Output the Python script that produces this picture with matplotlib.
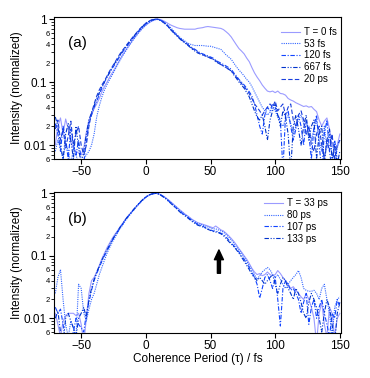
import numpy as np
import matplotlib
matplotlib.use('Agg')
import matplotlib.pyplot as plt
from matplotlib.ticker import LogLocator, FixedLocator, FuncFormatter, NullFormatter

plt.rcParams['font.family'] = ['Liberation Sans', 'DejaVu Sans']

# coherence period grid (fs)
tau = np.arange(-70, 151, 2)

# panel (a): population times T = 0 fs, 53 fs, 120 fs, 667 fs, 20 ps
a_0fs = [0.010, 0.020, 0.027, 0.015, 0.026, 0.018, 0.011, 0.009, 0.008, 0.0075,
         0.007, 0.009, 0.016, 0.025, 0.030, 0.038, 0.045, 0.055, 0.070, 0.085,
         0.100, 0.120, 0.140, 0.165, 0.195, 0.230, 0.270, 0.310, 0.360, 0.410,
         0.470, 0.530, 0.600, 0.670, 0.740, 0.800, 0.860, 0.910, 0.950, 0.980,
         0.990, 0.970, 0.930, 0.880, 0.830, 0.790, 0.760, 0.730, 0.710, 0.700,
         0.690, 0.690, 0.690, 0.690, 0.690, 0.710, 0.720, 0.730, 0.750, 0.760,
         0.750, 0.740, 0.730, 0.720, 0.710, 0.680, 0.630, 0.580, 0.520, 0.450,
         0.390, 0.340, 0.310, 0.280, 0.240, 0.210, 0.170, 0.140, 0.120, 0.105,
         0.090, 0.080, 0.072, 0.070, 0.072, 0.068, 0.072, 0.066, 0.065, 0.062,
         0.055, 0.052, 0.050, 0.047, 0.045, 0.043, 0.041, 0.042, 0.040, 0.041,
         0.037, 0.034, 0.025, 0.020, 0.024, 0.027, 0.018, 0.0095, 0.009, 0.010,
         0.015]
a_53fs = [0.008, 0.012, 0.009, 0.006, 0.011, 0.008, 0.005, 0.009, 0.007, 0.005,
          0.004, 0.006, 0.007, 0.008, 0.010, 0.015, 0.028, 0.042, 0.058, 0.075,
          0.092, 0.110, 0.130, 0.155, 0.185, 0.220, 0.260, 0.300, 0.350, 0.400,
          0.460, 0.520, 0.590, 0.660, 0.730, 0.800, 0.860, 0.920, 0.960, 0.990,
          0.990, 0.960, 0.900, 0.840, 0.770, 0.700, 0.630, 0.570, 0.520, 0.480,
          0.450, 0.420, 0.400, 0.390, 0.380, 0.380, 0.380, 0.380, 0.375, 0.370,
          0.370, 0.360, 0.350, 0.340, 0.330, 0.300, 0.270, 0.250, 0.230, 0.200,
          0.175, 0.155, 0.140, 0.125, 0.110, 0.100, 0.085, 0.070, 0.058, 0.048,
          0.040, 0.035, 0.030, 0.033, 0.040, 0.035, 0.028, 0.022, 0.020, 0.025,
          0.030, 0.022, 0.015, 0.020, 0.025, 0.030, 0.022, 0.015, 0.020, 0.012,
          0.018, 0.025, 0.012, 0.008, 0.020, 0.009, 0.015, 0.007, 0.005, 0.009,
          0.012]
a_120fs = [0.022, 0.015, 0.008, 0.020, 0.012, 0.006, 0.018, 0.010, 0.007, 0.012,
           0.006, 0.005, 0.012, 0.022, 0.030, 0.040, 0.050, 0.063, 0.080, 0.100,
           0.120, 0.140, 0.165, 0.190, 0.220, 0.260, 0.300, 0.340, 0.390, 0.440,
           0.500, 0.560, 0.630, 0.700, 0.770, 0.840, 0.900, 0.950, 0.980, 1.000,
           0.980, 0.940, 0.880, 0.810, 0.730, 0.660, 0.600, 0.550, 0.500, 0.460,
           0.430, 0.400, 0.370, 0.350, 0.330, 0.310, 0.290, 0.280, 0.270, 0.260,
           0.250, 0.240, 0.220, 0.210, 0.200, 0.190, 0.180, 0.170, 0.160, 0.140,
           0.125, 0.110, 0.100, 0.090, 0.080, 0.070, 0.060, 0.045, 0.030, 0.020,
           0.015, 0.030, 0.040, 0.035, 0.045, 0.040, 0.030, 0.025, 0.004, 0.030,
           0.035, 0.020, 0.012, 0.018, 0.030, 0.020, 0.010, 0.025, 0.015, 0.006,
           0.020, 0.030, 0.010, 0.004, 0.015, 0.025, 0.008, 0.004, 0.012, 0.006,
           0.004]
a_667fs = [0.028, 0.020, 0.010, 0.006, 0.015, 0.022, 0.012, 0.006, 0.020, 0.009,
           0.005, 0.008, 0.015, 0.025, 0.033, 0.042, 0.055, 0.068, 0.085, 0.100,
           0.120, 0.145, 0.170, 0.200, 0.230, 0.270, 0.310, 0.350, 0.400, 0.450,
           0.510, 0.570, 0.640, 0.710, 0.780, 0.850, 0.910, 0.950, 0.980, 0.990,
           0.970, 0.930, 0.870, 0.800, 0.720, 0.650, 0.590, 0.540, 0.490, 0.450,
           0.420, 0.390, 0.360, 0.330, 0.310, 0.290, 0.280, 0.270, 0.260, 0.250,
           0.240, 0.230, 0.210, 0.200, 0.190, 0.180, 0.170, 0.160, 0.150, 0.130,
           0.115, 0.100, 0.090, 0.080, 0.068, 0.058, 0.045, 0.035, 0.028, 0.025,
           0.030, 0.020, 0.012, 0.025, 0.035, 0.045, 0.030, 0.020, 0.035, 0.028,
           0.015, 0.004, 0.020, 0.030, 0.018, 0.010, 0.020, 0.030, 0.012, 0.020,
           0.025, 0.006, 0.015, 0.020, 0.005, 0.012, 0.018, 0.006, 0.010, 0.005,
           0.008]
a_20ps = [0.018, 0.025, 0.012, 0.018, 0.009, 0.014, 0.024, 0.010, 0.015, 0.020,
          0.010, 0.007, 0.010, 0.020, 0.032, 0.045, 0.060, 0.075, 0.090, 0.105,
          0.125, 0.150, 0.175, 0.205, 0.240, 0.280, 0.320, 0.360, 0.410, 0.460,
          0.520, 0.580, 0.650, 0.720, 0.790, 0.860, 0.920, 0.960, 0.990, 1.000,
          0.980, 0.940, 0.880, 0.810, 0.740, 0.670, 0.600, 0.550, 0.500, 0.460,
          0.430, 0.400, 0.370, 0.340, 0.320, 0.300, 0.280, 0.270, 0.260, 0.250,
          0.240, 0.230, 0.220, 0.200, 0.190, 0.180, 0.170, 0.160, 0.150, 0.135,
          0.120, 0.105, 0.095, 0.085, 0.075, 0.065, 0.055, 0.045, 0.040, 0.035,
          0.030, 0.035, 0.040, 0.045, 0.040, 0.050, 0.035, 0.040, 0.045, 0.030,
          0.040, 0.045, 0.025, 0.020, 0.030, 0.035, 0.025, 0.015, 0.020, 0.010,
          0.008, 0.015, 0.020, 0.010, 0.006, 0.012, 0.008, 0.015, 0.006, 0.010,
          0.012]

# panel (b): T = 33 ps, 80 ps, 107 ps, 133 ps
b_33ps = [0.012, 0.008, 0.005, 0.009, 0.011, 0.012, 0.012, 0.012, 0.011, 0.012,
          0.008, 0.004, 0.010, 0.025, 0.040, 0.045, 0.055, 0.070, 0.090, 0.110,
          0.135, 0.160, 0.190, 0.220, 0.250, 0.290, 0.330, 0.380, 0.430, 0.480,
          0.540, 0.600, 0.660, 0.730, 0.800, 0.870, 0.930, 0.970, 0.990, 1.000,
          0.980, 0.940, 0.890, 0.830, 0.770, 0.710, 0.650, 0.600, 0.550, 0.510,
          0.470, 0.440, 0.410, 0.380, 0.360, 0.340, 0.330, 0.320, 0.310, 0.300,
          0.290, 0.280, 0.300, 0.280, 0.260, 0.250, 0.230, 0.210, 0.190, 0.170,
          0.150, 0.130, 0.115, 0.100, 0.088, 0.075, 0.063, 0.055, 0.050, 0.052,
          0.048, 0.050, 0.055, 0.050, 0.048, 0.050, 0.058, 0.052, 0.045, 0.040,
          0.035, 0.030, 0.032, 0.028, 0.025, 0.022, 0.020, 0.025, 0.020, 0.015,
          0.010, 0.004, 0.012, 0.018, 0.008, 0.005, 0.015, 0.012, 0.005, 0.010,
          0.012]
b_80ps = [0.025, 0.045, 0.060, 0.020, 0.008, 0.005, 0.009, 0.007, 0.005, 0.035,
          0.030, 0.012, 0.009, 0.014, 0.020, 0.025, 0.035, 0.050, 0.065, 0.085,
          0.110, 0.135, 0.165, 0.195, 0.230, 0.270, 0.310, 0.360, 0.410, 0.460,
          0.520, 0.580, 0.650, 0.720, 0.790, 0.860, 0.920, 0.960, 0.990, 1.000,
          0.980, 0.940, 0.880, 0.820, 0.760, 0.700, 0.640, 0.590, 0.540, 0.500,
          0.460, 0.430, 0.400, 0.370, 0.350, 0.330, 0.320, 0.310, 0.300, 0.290,
          0.280, 0.270, 0.270, 0.260, 0.250, 0.240, 0.220, 0.200, 0.180, 0.160,
          0.140, 0.125, 0.110, 0.095, 0.082, 0.070, 0.060, 0.050, 0.042, 0.048,
          0.055, 0.060, 0.065, 0.060, 0.050, 0.045, 0.050, 0.042, 0.035, 0.030,
          0.035, 0.040, 0.045, 0.050, 0.058, 0.045, 0.030, 0.028, 0.027, 0.027,
          0.028, 0.025, 0.020, 0.030, 0.035, 0.020, 0.012, 0.005, 0.015, 0.020,
          0.022]
b_107ps = [0.015, 0.012, 0.014, 0.008, 0.004, 0.005, 0.005, 0.006, 0.010, 0.008,
           0.007, 0.006, 0.012, 0.018, 0.028, 0.040, 0.052, 0.065, 0.082, 0.100,
           0.120, 0.145, 0.175, 0.205, 0.240, 0.280, 0.320, 0.370, 0.420, 0.470,
           0.530, 0.590, 0.660, 0.730, 0.800, 0.870, 0.930, 0.970, 0.990, 1.000,
           0.980, 0.930, 0.870, 0.810, 0.740, 0.680, 0.620, 0.570, 0.520, 0.480,
           0.450, 0.420, 0.390, 0.360, 0.340, 0.320, 0.310, 0.300, 0.280, 0.270,
           0.260, 0.250, 0.250, 0.240, 0.230, 0.220, 0.200, 0.180, 0.160, 0.145,
           0.130, 0.115, 0.100, 0.088, 0.075, 0.065, 0.055, 0.045, 0.035, 0.021,
           0.030, 0.045, 0.050, 0.040, 0.030, 0.045, 0.020, 0.0075, 0.030, 0.040,
           0.035, 0.028, 0.030, 0.025, 0.020, 0.012, 0.018, 0.025, 0.008, 0.015,
           0.020, 0.010, 0.015, 0.020, 0.012, 0.008, 0.005, 0.012, 0.010, 0.020,
           0.015]
b_133ps = [0.010, 0.013, 0.006, 0.004, 0.010, 0.012, 0.009, 0.007, 0.005, 0.010,
           0.012, 0.015, 0.010, 0.020, 0.030, 0.042, 0.055, 0.068, 0.085, 0.105,
           0.125, 0.150, 0.180, 0.210, 0.245, 0.285, 0.325, 0.375, 0.425, 0.475,
           0.535, 0.600, 0.670, 0.740, 0.810, 0.880, 0.930, 0.970, 0.990, 1.000,
           0.970, 0.920, 0.860, 0.800, 0.730, 0.670, 0.610, 0.560, 0.510, 0.470,
           0.440, 0.410, 0.380, 0.350, 0.330, 0.310, 0.300, 0.290, 0.280, 0.265,
           0.255, 0.245, 0.240, 0.235, 0.225, 0.210, 0.190, 0.170, 0.155, 0.140,
           0.125, 0.110, 0.095, 0.082, 0.070, 0.060, 0.050, 0.045, 0.040, 0.045,
           0.040, 0.035, 0.040, 0.045, 0.050, 0.035, 0.025, 0.035, 0.045, 0.040,
           0.030, 0.025, 0.020, 0.030, 0.025, 0.018, 0.012, 0.010, 0.018, 0.025,
           0.020, 0.015, 0.010, 0.006, 0.012, 0.020, 0.015, 0.008, 0.004, 0.012,
           0.018]

labels_a = ['T = 0 fs', '53 fs', '120 fs', '667 fs', '20 ps']
labels_b = ['T = 33 ps', '80 ps', '107 ps', '133 ps']

purple = '#9b9bff'
styles = [
    dict(color=purple, ls='-'),
    dict(color='#3366ff', ls=(0, (1, 1))),
    dict(color='#1144ff', ls=(0, (4, 1.5, 1, 1.5))),
    dict(color='#0033cc', ls=(0, (4, 1.5, 1, 1.5, 1, 1.5))),
    dict(color='#1a3fdd', ls=(0, (4, 2))),
]

fig = plt.figure(figsize=(3.7, 3.78), dpi=100)
ax_a = fig.add_axes([0.146, 0.579, 0.776, 0.376])
ax_b = fig.add_axes([0.146, 0.119, 0.776, 0.373])


def minor_fmt(v, pos):
    m = v / 10 ** np.floor(np.log10(v) + 1e-9)
    m = int(round(m))
    return str(m) if m in (2, 4, 6) else ''


def major_fmt(v, pos):
    return {1.0: '1', 0.1: '0.1', 0.01: '0.01'}.get(round(v, 4), '')


for ax, series, labels in [(ax_a, [a_0fs, a_53fs, a_120fs, a_667fs, a_20ps], labels_a),
                           (ax_b, [b_33ps, b_80ps, b_107ps, b_133ps], labels_b)]:
    for y, lab, st in zip(series, labels, styles):
        ax.plot(tau, y, lw=0.8, label=lab, **st)
    ax.set_yscale('log')
    ax.set_xlim(-71, 151)
    ax.xaxis.set_major_locator(FixedLocator([-50, 0, 50, 100, 150]))
    ax.yaxis.set_major_locator(LogLocator(base=10, numticks=10))
    ax.yaxis.set_minor_locator(LogLocator(base=10, subs=np.arange(2, 10), numticks=10))
    ax.yaxis.set_major_formatter(FuncFormatter(major_fmt))
    ax.yaxis.set_minor_formatter(FuncFormatter(minor_fmt))
    ax.tick_params(axis='both', which='major', direction='out', length=3.5, width=0.8,
                   labelsize=8.5, pad=1.5)
    ax.tick_params(axis='y', which='minor', direction='out', length=2, width=0.6,
                   labelsize=5.5, pad=1)
    ax.set_ylabel('Intensity (normalized)', fontsize=8.5, labelpad=1)
    for s in ax.spines.values():
        s.set_linewidth(0.8)

ax_a.set_ylim(0.006, 1.076)
ax_b.set_ylim(0.0058, 1.05)

ax_a.text(-60, 0.41, '(a)', fontsize=11, va='center')
ax_b.text(-60, 0.39, '(b)', fontsize=11, va='center')

ax_a.legend(loc='upper left', bbox_to_anchor=(0.79, 0.93), frameon=False, fontsize=7,
            handlelength=2.0, handletextpad=0.4, labelspacing=0.18, borderpad=0,
            borderaxespad=0)
ax_b.legend(loc='upper left', bbox_to_anchor=(0.73, 0.955), frameon=False, fontsize=7,
            handlelength=2.0, handletextpad=0.4, labelspacing=0.18, borderpad=0,
            borderaxespad=0)

ax_b.annotate('', xy=(56.5, 0.124), xytext=(56.5, 0.0525),
              arrowprops=dict(facecolor='black', edgecolor='black', width=2.2,
                              headwidth=6.5, headlength=7, shrink=0))

ax_b.set_xlabel('Coherence Period (\u03c4) / fs', fontsize=8.5, labelpad=1)

plt.savefig('out.png', dpi=100)
